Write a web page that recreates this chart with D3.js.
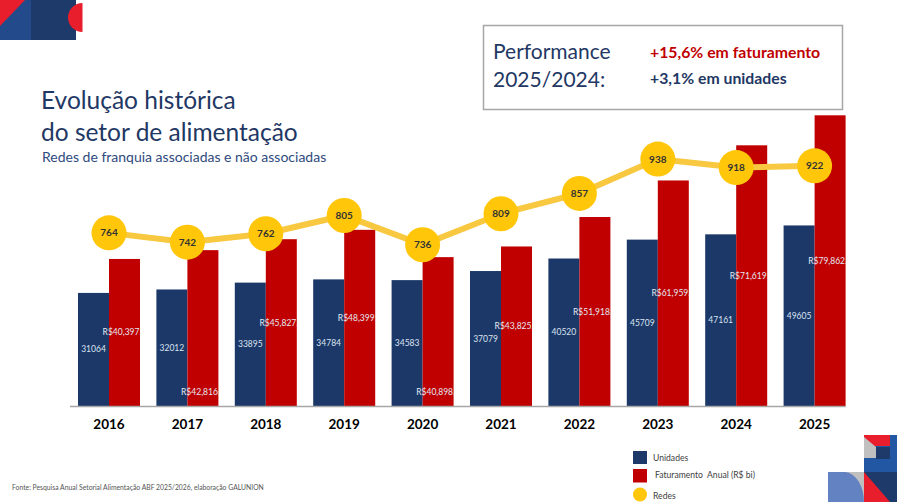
<!DOCTYPE html>
<html><head><meta charset="utf-8">
<script src="https://cdn.jsdelivr.net/npm/d3@7"></script>
<style>
html,body{margin:0;padding:0;background:#fff;}
svg{display:block;font-family:Lato,"Open Sans",sans-serif;}
</style></head>
<body>
<svg id="c" width="897" height="502"></svg>
<script>
// ---- data ----
const years = ['2016','2017','2018','2019','2020','2021','2022','2023','2024','2025'];
const unidades = [31064, 32012, 33895, 34784, 34583, 37079, 40520, 45709, 47161, 49605];
const faturamento = [40397, 42816, 45827, 48399, 40898, 43825, 51918, 61959, 71619, 79862];
const redes = [764, 742, 762, 805, 736, 809, 857, 938, 918, 922];
const faturLabelPlacement = ['mid','base','mid','mid','base','mid','mid','mid','mid','mid'];
const legendItems = ['Unidades', 'Faturamento  Anual (R$ bi)', 'Redes'];

const NAVY = '#1b3868', RED = '#c00000', GOLD = '#ffc60a', LINE = '#f7c840';

const svg = d3.select('#c');

// decorations top-left
const deco = svg.append('g');
deco.append('rect').attr('x',0).attr('y',0).attr('width',31).attr('height',40).attr('fill','#234a8a');
deco.append('rect').attr('x',31).attr('y',0).attr('width',45).attr('height',40).attr('fill','#1d3a6a');
deco.append('path').attr('d','M0,0 L25,0 L0,26 Z').attr('fill','#e81e2c');
deco.append('path').attr('d','M82.5,3 A14.5,14.5 0 0 0 82.5,32 Z').attr('fill','#e81e2c');

// decorations bottom-right
const d2 = svg.append('g');
d2.append('rect').attr('x',864).attr('y',435).attr('width',33).attr('height',37).attr('fill','#2257a3');
d2.append('rect').attr('x',864).attr('y',435).attr('width',26).attr('height',11).attr('fill','#e81e2c');
d2.append('path').attr('d','M864,437 L876,447 L876,458 L864,458 Z').attr('fill','#c0c0c0');
d2.append('rect').attr('x',876).attr('y',447).attr('width',14).attr('height',12).attr('fill','#1d3a6a');
d2.append('rect').attr('x',864).attr('y',472).attr('width',33).attr('height',30).attr('fill','#1d3a6a');
d2.append('path').attr('d','M864,472 L890,502 L864,502 Z').attr('fill','#e81e2c');
d2.append('rect').attr('x',828).attr('y',472).attr('width',36).attr('height',30).attr('fill','#c0c0c0');
d2.append('path').attr('d','M828,502 L828,472 L845,472 A20,30 0 0 1 864,502 Z').attr('fill','#6382c2');

// title
svg.append('text').attr('x',41).attr('y',109).attr('font-size',24.5).attr('fill','#1f3864').text('Evolução histórica');
svg.append('text').attr('x',41).attr('y',141).attr('font-size',24.5).attr('fill','#1f3864').text('do setor de alimentação');
svg.append('text').attr('x',42).attr('y',162).attr('font-size',14).attr('fill','#2e4a7d').text('Redes de franquia associadas e não associadas');

// performance box
svg.append('rect').attr('x',483.5).attr('y',25.5).attr('width',359).attr('height',84).attr('fill','#fff').attr('stroke','#a6a6a6').attr('stroke-width',1.5);
svg.append('text').attr('x',493).attr('y',59).attr('font-size',21).attr('fill','#1f3864').text('Performance');
svg.append('text').attr('x',493).attr('y',87).attr('font-size',21).attr('fill','#1f3864').text('2025/2024:');
svg.append('text').attr('x',650).attr('y',58).attr('font-size',15.8).attr('font-weight','bold').attr('fill','#c00000').text('+15,6% em faturamento');
svg.append('text').attr('x',650).attr('y',84).attr('font-size',15.8).attr('font-weight','bold').attr('fill','#1f3864').text('+3,1% em unidades');

// scales
const x = d3.scaleBand().domain(years).range([70, 853.6]).paddingInner(0.209).paddingOuter(0.102);
const x1 = d3.scaleBand().domain(['u','f']).range([0, x.bandwidth()]);
const y = d3.scaleLinear().domain([0, 80000]).range([406, 114.8]);
const yL = d3.scaleLinear().domain([700, 950]).range([260, 154]);

const data = years.map((yr,i)=>({yr, u:unidades[i], f:faturamento[i], r:redes[i], p:faturLabelPlacement[i]}));

const defs = svg.append('defs');
data.forEach((d,i)=>{
  defs.append('clipPath').attr('id','cl'+i).append('rect')
    .attr('x', x(d.yr)-10).attr('y',0).attr('width', x.bandwidth()+10).attr('height',502);
});

const g = svg.append('g');
const grp = g.selectAll('g.grp').data(data).join('g').attr('class','grp');
grp.append('rect').attr('x',d=>x(d.yr)+x1('u')).attr('y',d=>y(d.u)).attr('width',x1.bandwidth()).attr('height',d=>y(0)-y(d.u)).attr('fill',NAVY);
grp.append('rect').attr('x',d=>x(d.yr)+x1('f')).attr('y',d=>y(d.f)).attr('width',x1.bandwidth()).attr('height',d=>y(0)-y(d.f)).attr('fill',RED);

// axis line
svg.append('line').attr('x1',x.range()[0]).attr('x2',x(years[years.length-1])+x.bandwidth()).attr('y1',y(0)+0.5).attr('y2',y(0)+0.5).attr('stroke','#a6a6a6').attr('stroke-width',1.5);

// value labels in bars
grp.append('text').attr('x',d=>x(d.yr)+x1('u')+x1.bandwidth()/2).attr('y',d=>(y(d.u)+y(0))/2+3)
  .attr('text-anchor','middle').attr('font-size',8.5).attr('fill','#dbe3f0').text(d=>d.u);
grp.append('text').attr('clip-path',(d,i)=>`url(#cl${i})`)
  .attr('x',d=>x(d.yr)+x1('f')+x1.bandwidth()/2)
  .attr('y',d=> d.p==='mid' ? (y(d.f)+y(0))/2+3 : y(0)-11)
  .attr('text-anchor','middle').attr('font-size',8.5).attr('fill','#e4e8f2')
  .text(d=>'R$'+d3.format(',.1f')(d.f));

// years axis labels
svg.append('g').selectAll('text').data(years).join('text')
  .attr('x',d=>x(d)+x.bandwidth()/2).attr('y',429).attr('text-anchor','middle')
  .attr('font-size',13.5).attr('font-weight','bold').attr('fill','#000').text(d=>d);

// redes line
const cx = d=>x(d.yr)+x.bandwidth()/2;
svg.append('path').datum(data).attr('fill','none').attr('stroke',LINE).attr('stroke-width',6)
  .attr('d', d3.line().x(cx).y(d=>yL(d.r)));
svg.append('g').selectAll('circle').data(data).join('circle')
  .attr('cx',cx).attr('cy',d=>yL(d.r)).attr('r',17.5).attr('fill',GOLD);
svg.append('g').selectAll('text').data(data).join('text')
  .attr('x',cx).attr('y',d=>yL(d.r)+3.5).attr('text-anchor','middle')
  .attr('font-size',10).attr('font-weight','bold').attr('fill','#333').text(d=>d.r);

// legend
const lg = svg.append('g');
lg.append('rect').attr('x',633).attr('y',451).attr('width',14).attr('height',13).attr('fill',NAVY);
lg.append('rect').attr('x',633).attr('y',469).attr('width',14).attr('height',13.5).attr('fill',RED);
lg.append('circle').attr('cx',640).attr('cy',494.5).attr('r',7).attr('fill',GOLD);
const ly = [461, 478, 499];
const lx = [653, 655, 653];
legendItems.forEach((t,i)=>{
  lg.append('text').attr('x',lx[i]).attr('y',ly[i]).attr('font-size',8.6).attr('fill','#404040').style('white-space','pre').text(t);
});

// source
svg.append('text').attr('x',12).attr('y',490).attr('font-size',6.8).attr('fill','#555').text('Fonte: Pesquisa Anual Setorial Alimentação ABF 2025/2026, elaboração GALUNION');
</script>
</body></html>
